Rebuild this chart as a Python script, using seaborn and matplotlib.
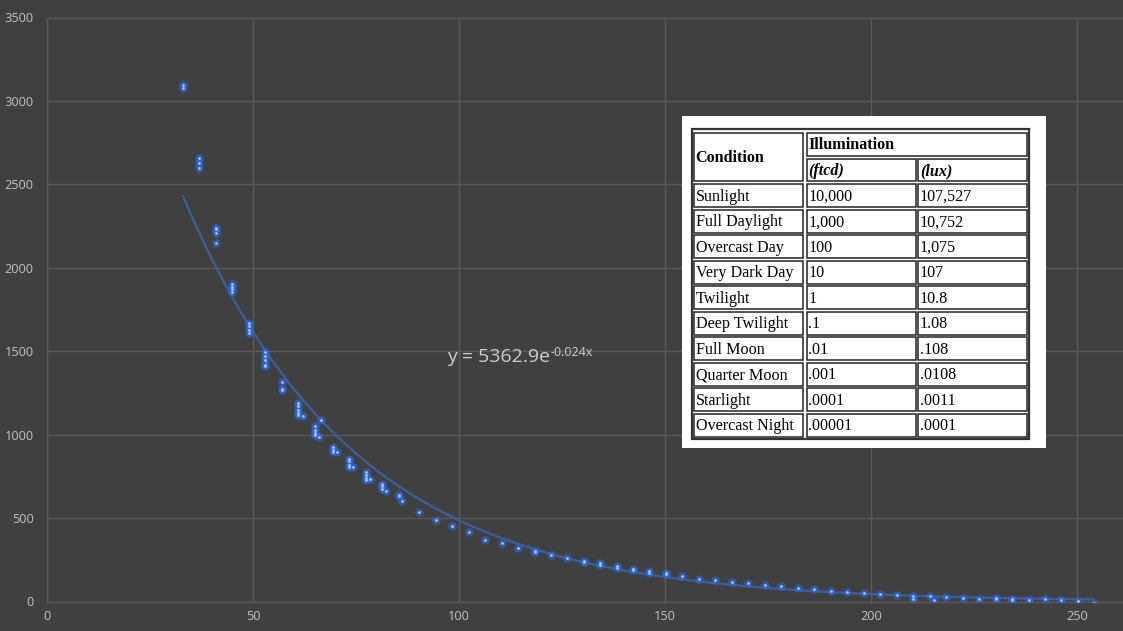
import numpy as np
import pandas as pd
import matplotlib
matplotlib.use("Agg")
import matplotlib.pyplot as plt
import seaborn as sns
from matplotlib.patches import Rectangle

x_vals = [33, 33,
          37, 37, 37,
          41, 41, 41, 41,
          45, 45, 45, 45,
          49, 49, 49, 49,
          53, 53, 53, 53, 53,
          57, 57, 57,
          61, 61, 61, 61, 61, 62,
          65, 65, 65, 65, 66, 66.5,
          69.4, 69.4, 69.4, 70.3,
          73.2, 73.2, 73.2, 73.2, 74.2,
          77.3, 77.3, 77.3, 77.3, 78.3,
          81.3, 81.3, 81.3, 82.2,
          85.3, 85.3, 86.2,
          90.2, 94.4, 98.3, 102.3, 106.2, 110.3, 114.2,
          118.3, 118.3, 122.2, 126.3, 130.2, 130.2, 134.3, 134.3,
          138.2, 138.2, 142.3, 142.3, 146.2, 146.2, 150.3, 150.3,
          154.1, 158.3, 162.2, 166.3, 170.2, 174.3, 178.2, 182.2,
          186.1, 190.2, 194.2, 198.2, 202.1, 206.2, 210.2, 210.2,
          214.2, 215.2, 218.2, 222.2, 226.2, 230.2, 230.2, 234.1, 234.1,
          238.2, 242.2, 246.1, 250.1, 254.0]
y_vals = [3095, 3080,
          2655, 2625, 2600,
          2240, 2230, 2210, 2150,
          1900, 1885, 1870, 1855,
          1670, 1650, 1630, 1610,
          1495, 1470, 1445, 1420, 1410,
          1316, 1275, 1265,
          1190, 1170, 1150, 1130, 1115, 1112,
          1050, 1030, 1010, 995, 988, 1086,
          926, 910, 895, 898,
          856, 840, 820, 805, 808,
          777, 760, 740, 730, 736,
          706, 690, 672, 664,
          640, 630, 601,
          536, 490, 452, 416, 370, 352, 322,
          305, 295, 280, 260, 245, 238, 228, 220,
          210, 202, 194, 186, 180, 172, 170, 162,
          150, 136, 130, 118, 112, 100, 94, 82,
          76, 64, 58, 52, 46, 38, 34, 12,
          32, 10, 28, 22, 16, 18, 14, 16, 10,
          10, 16, 10, 4, -6]

# exponential trendline y = A * exp(k x)
trend_a = 5362.9
trend_k = -0.024

# table shown on the chart
tbl_conditions = ["Sunlight", "Full Daylight", "Overcast Day", "Very Dark Day", "Twilight",
                  "Deep Twilight", "Full Moon", "Quarter Moon", "Starlight", "Overcast Night"]
tbl_ftcd = ["10,000", "1,000", "100", "10", "1", ".1", ".01", ".001", ".0001", ".00001"]
tbl_lux = ["107,527", "10,752", "1,075", "107", "10.8", "1.08", ".108", ".0108", ".0011", ".0001"]

bg = "#404040"
grid_c = "#5a5a5a"
tick_c = "#c4c4c4"

sns.set_theme(style="dark", rc={"axes.facecolor": bg, "figure.facecolor": bg})
plt.rcParams["font.family"] = ["Open Sans", "DejaVu Sans"]

df = pd.DataFrame({"x": x_vals, "y": y_vals})
xs = np.linspace(df["x"].min(), df["x"].max(), 300)
trend = pd.DataFrame({"x": xs, "y": trend_a * np.exp(trend_k * xs)})

fig = plt.figure(figsize=(11.23, 6.31), dpi=100)
ax = fig.add_axes([47 / 1123, 29.5 / 631, 1 - 47 / 1123, 584 / 631])

sns.lineplot(data=trend, x="x", y="y", ax=ax, color="#3b5e9e", linewidth=1.7, zorder=2)
sns.scatterplot(data=df, x="x", y="y", ax=ax, color="#2a6ae6", alpha=0.6, s=36,
                linewidth=0, zorder=3)
sns.scatterplot(data=df, x="x", y="y", ax=ax, color="#a9c6ff", s=4,
                linewidth=0, zorder=4)

ax.set_xlim(0, 1076 / 4.121)
ax.set_ylim(0, 3500)
ax.set_xticks(range(0, 251, 50))
ax.set_yticks(range(0, 3501, 500))
ax.set_xlabel("")
ax.set_ylabel("")
ax.grid(True, color=grid_c, linewidth=1)
for side in ["left", "bottom", "top"]:
    ax.spines[side].set_visible(True)
    ax.spines[side].set_color(grid_c)
    ax.spines[side].set_linewidth(1)
ax.spines["right"].set_visible(False)
ax.tick_params(axis="both", length=0, colors=tick_c, labelsize=9.2)
ax.tick_params(axis="y", pad=9.5)
ax.tick_params(axis="x", pad=6)

eq = ax.text(97.1, 1435, "y = 5362.9e", color="#d0d0d0",
             fontsize=14, ha="left", va="baseline", zorder=5)
ax.annotate("-0.024x", xy=(1.0, 0.78), xycoords=eq, color="#d0d0d0",
            fontsize=9, ha="left", va="center", zorder=5)

# table inset (pixel layout inside a white box)
tab = fig.add_axes([682 / 1123, (631 - 448) / 631, 364 / 1123, 332 / 631])
tab.set_xlim(0, 364)
tab.set_ylim(332, 0)
tab.set_facecolor("white")
tab.set_xticks([])
tab.set_yticks([])
for s in tab.spines.values():
    s.set_visible(False)

tab.add_patch(Rectangle((9.7, 13.3), 337.6, 310, fill=False, edgecolor="#333333", linewidth=1.6))
cols = [(12, 109.3), (124.7, 109), (236.3, 108.7)]
serif = ["Liberation Serif", "DejaVu Serif"]


def cell(x0, y0, w, h, txt, weight="normal", style="normal"):
    tab.add_patch(Rectangle((x0, y0), w, h, fill=False, edgecolor="#222222", linewidth=1.1))
    tab.text(x0 + 1.5, y0 + h / 2 + 1, txt, family=serif, fontsize=11.6, weight=weight,
             style=style, color="black", ha="left", va="center")


cell(cols[0][0], 16.7, cols[0][1], 48.3, "Condition", weight="bold")
cell(cols[1][0], 16.7, cols[2][0] + cols[2][1] - cols[1][0], 23, "Illumination", weight="bold")
cell(cols[1][0], 43, cols[1][1], 22, "(ftcd)", weight="bold", style="italic")
cell(cols[2][0], 43, cols[2][1], 22, "(lux)", weight="bold", style="italic")
for i, (c, f, l) in enumerate(zip(tbl_conditions, tbl_ftcd, tbl_lux)):
    y0 = 68 + i * 25.5
    cell(cols[0][0], y0, cols[0][1], 23.3, c)
    cell(cols[1][0], y0, cols[1][1], 23.3, f)
    cell(cols[2][0], y0, cols[2][1], 23.3, l)

fig.savefig("out.png", dpi=100, facecolor=bg)
